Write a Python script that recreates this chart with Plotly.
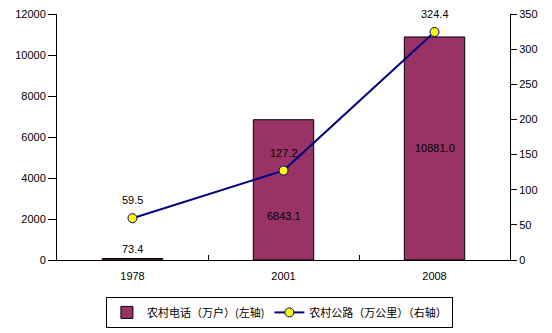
import plotly.graph_objects as go

years = ["1978", "2001", "2008"]
phone = [73.4, 6843.1, 10881.0]
road = [59.5, 127.2, 324.4]
phone_labels = ["73.4", "6843.1", "10881.0"]
road_labels = ["59.5", "127.2", "324.4"]

FONT = "Liberation Sans, Arial, Noto Sans CJK SC, sans-serif"

fig = go.Figure()
fig.add_trace(go.Bar(
    x=years, y=phone, name="农村电话（万户）(左轴)",
    marker=dict(color="#993366", line=dict(color="black", width=1)),
    width=0.4, yaxis="y",
))
fig.add_trace(go.Scatter(
    x=years, y=road, name="农村公路（万公里）（右轴）",
    mode="lines+markers", yaxis="y2",
    line=dict(color="#000080", width=2),
    marker=dict(color="#FFFF00", size=9, line=dict(color="#000080", width=1)),
))

annotations = []
# bar labels
bar_shift = [10, -26, 0]
for i, (v, t) in enumerate(zip(phone, phone_labels)):
    yy = v if i == 0 else v / 2
    annotations.append(dict(x=i, y=yy, yref="y", xref="x", text=t, showarrow=False,
                            yshift=bar_shift[i], font=dict(size=11, color="black", family=FONT)))
for i, (v, t) in enumerate(zip(road, road_labels)):
    annotations.append(dict(x=i, y=v, yref="y2", xref="x", text=t, showarrow=False,
                            yshift=18, font=dict(size=11, color="black", family=FONT)))

fig.update_layout(
    width=552, height=333,
    margin=dict(l=57, r=42, t=14, b=73, autoexpand=False),
    paper_bgcolor="white", plot_bgcolor="white",
    font=dict(family=FONT, size=11, color="black"),
    showlegend=True,
    legend=dict(orientation="h", x=0.108, y=-0.15, xanchor="left", yanchor="top",
                bordercolor="black", borderwidth=1, bgcolor="white",
                font=dict(family="Noto Sans CJK SC, sans-serif", size=11),
                itemwidth=30, tracegroupgap=0),
    xaxis=dict(type="category", showline=True, linecolor="black", linewidth=1,
               ticks="inside", tickson="boundaries", ticklen=5, tickcolor="black",
               showgrid=False, range=[-0.5, 2.5], tickfont=dict(size=11),
               ticklabelstandoff=6),
    yaxis=dict(range=[0, 12000], dtick=2000, tickformat="d", showline=True, linecolor="black",
               ticks="outside", ticklen=8, tickcolor="black", showgrid=False,
               zeroline=False, tickfont=dict(size=11)),
    yaxis2=dict(range=[0, 350], dtick=50, overlaying="y", side="right",
                showline=True, linecolor="black", ticks="outside", ticklen=6,
                tickcolor="black", showgrid=False, zeroline=False, tickfont=dict(size=11)),
    annotations=annotations,
    bargap=0.6,
)

fig.write_html("out.html")
